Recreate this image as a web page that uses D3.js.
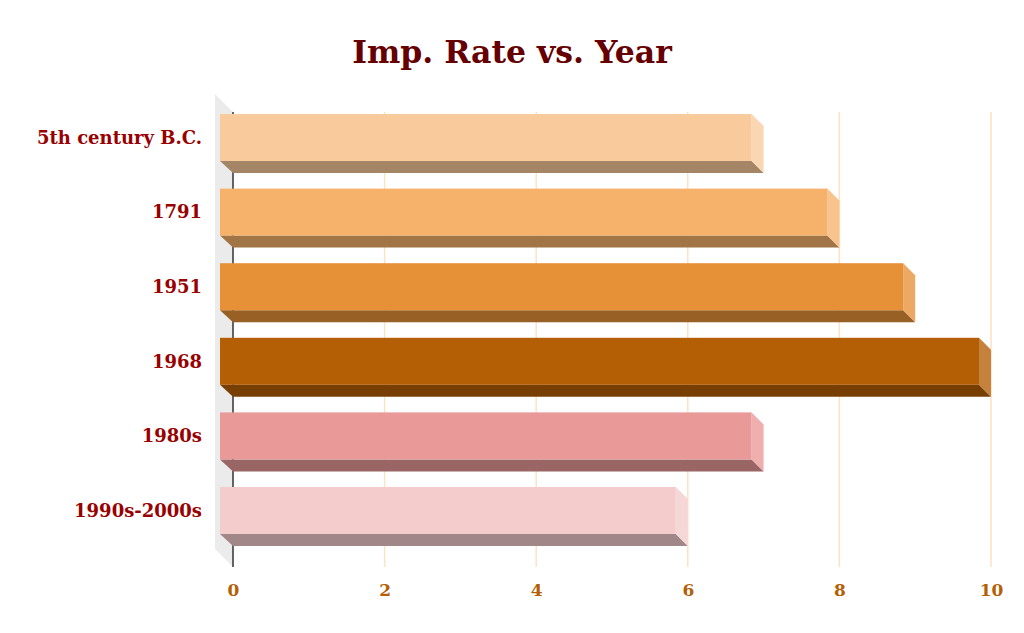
<!DOCTYPE html>
<html><head><meta charset="utf-8">
<script src="https://cdn.jsdelivr.net/npm/d3@7"></script>
<style>
body{margin:0;background:#fff;}
svg{display:block;}
</style></head>
<body>
<svg id="chart" width="1024" height="633"></svg>
<script>
const categories = ["5th century B.C.", "1791", "1951", "1968", "1980s", "1990s-2000s"];
const values = [7, 8, 9, 10, 7, 6];
const colors = ["#f9cb9c", "#f6b26b", "#e69138", "#b45f06", "#ea9999", "#f4cccc"];
const xTicks = [0, 2, 4, 6, 8, 10];
const title = "Imp. Rate vs. Year";

const svg = d3.select("#chart");
const FONT = "Georgia, 'DejaVu Serif', serif";
const depth = 12, wallDepth = 18;
const plotTop = 112, plotBot = 567;
const x = d3.scaleLinear().domain([0, 10]).range([233, 991]);
const y = d3.scaleBand().domain(categories).range([plotTop, 560]).paddingInner(0.37).paddingOuter(0.188);

// title
svg.append("text").attr("x", 512).attr("y", 63).attr("text-anchor", "middle")
  .attr("font-family", FONT).attr("font-weight", "bold").attr("font-size", 31.5)
  .attr("fill", "#660000").text(title);

const x0 = x(0);
// wall
svg.append("polygon")
  .attr("points", [[x0 - wallDepth, plotTop - wallDepth], [x0, plotTop], [x0, plotBot], [x0 - wallDepth, plotBot - wallDepth]].map(p => p.join(",")).join(" "))
  .attr("fill", "#ebebeb");

// gridlines
svg.append("g").selectAll("line").data(xTicks.slice(1)).join("line")
  .attr("x1", d => x(d)).attr("x2", d => x(d)).attr("y1", plotTop).attr("y2", plotBot)
  .attr("stroke", "#fde2c4").attr("stroke-width", 1.5);

// axis line
svg.append("line").attr("x1", x0).attr("x2", x0).attr("y1", plotTop).attr("y2", plotBot)
  .attr("stroke", "#333").attr("stroke-width", 1.5);

// x axis labels
const axis = d3.axisBottom(x).tickValues(xTicks).tickSize(0).tickPadding(0).tickFormat(d3.format("d"));
const gx = svg.append("g").attr("transform", `translate(0,${plotBot + 23})`).call(axis);
gx.select(".domain").remove();
gx.selectAll("text").attr("font-family", FONT).attr("font-weight", "bold").attr("font-size", 17)
  .attr("fill", "#b45f06").attr("dy", "0.35em");

// bars
const gb = svg.append("g");
const mul = (c, k) => { const r = d3.rgb(c); return d3.rgb(r.r * k, r.g * k, r.b * k).toString(); };
categories.forEach((c, i) => {
  const v = values[i];
  const dark = mul(colors[i], 0.66);
  const light = d3.interpolateRgb(colors[i], "#ffffff")(0.22);
  const bt = y(c), bb = y(c) + y.bandwidth();
  const xb0 = x(0), xb1 = x(v);
  const fx0 = xb0 - depth - 1, fx1 = xb1 - depth, ft = bt - depth, fb = bb - depth;
  const g = gb.append("g");
  g.append("polygon").attr("points", [[fx0, fb], [fx1, fb], [xb1, bb], [xb0, bb]].map(p => p.join(",")).join(" ")).attr("fill", dark);
  g.append("polygon").attr("points", [[fx1, ft], [xb1, bt], [xb1, bb], [fx1, fb]].map(p => p.join(",")).join(" ")).attr("fill", light);
  g.append("rect").attr("x", fx0).attr("y", ft).attr("width", fx1 - fx0).attr("height", fb - ft).attr("fill", colors[i]);
  svg.append("text").attr("x", 202).attr("y", (ft + fb) / 2).attr("dy", "0.35em").attr("text-anchor", "end")
    .attr("font-family", FONT).attr("font-weight", "bold").attr("font-size", 18).attr("fill", "#990000").text(c);
});
</script>
</body></html>
